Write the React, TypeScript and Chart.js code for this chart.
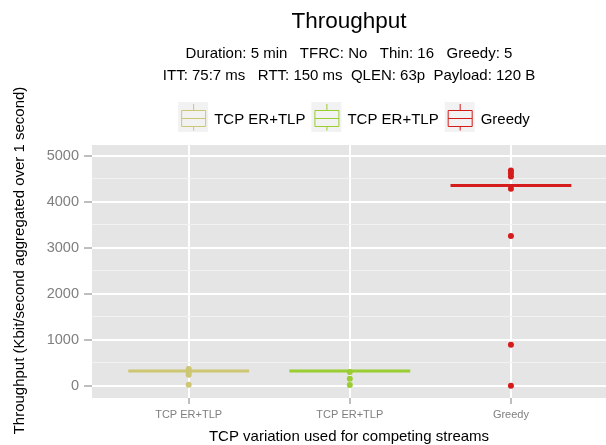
import React, { useEffect, useRef } from 'react';
import { Chart, registerables } from 'chart.js';

Chart.register(...registerables);

const FONT = '"Liberation Sans", Arial, Helvetica, sans-serif';

// ---- data ----
const categories = ['TCP ER+TLP', 'TCP ER+TLP', 'Greedy'];
const seriesColors = ['#cdc673', '#9acd32', '#d41c1c'];
const medians = [318, 322, 4357];
const outliersErTlpA = [365, 325, 285, 240, 20];
const outliersErTlpB = [300, 150, 15];
const outliersGreedy = [4684, 4627, 4553, 4285, 3259, 893, 0];
const outliers = [outliersErTlpA, outliersErTlpB, outliersGreedy];
const yTickValues = [0, 500, 1000, 1500, 2000, 2500, 3000, 3500, 4000, 4500, 5000];
const yMajorStep = 1000;
const yMin = -268;
const yMax = 5240;

const titleText = 'Throughput';
const subtitleLines = [
  'Duration: 5 min   TFRC: No   Thin: 16   Greedy: 5',
  'ITT: 75:7 ms   RTT: 150 ms  QLEN: 63p  Payload: 120 B',
];
const xTitle = 'TCP variation used for competing streams';
const yTitle = 'Throughput (Kbit/second aggregated over 1 second)';
const boxWidth = 0.75;

const panelBg = {
  id: 'panelBg',
  beforeDraw(chart: any) {
    const { ctx, chartArea } = chart;
    ctx.save();
    ctx.fillStyle = '#ffffff';
    ctx.fillRect(0, 0, chart.width, chart.height);
    ctx.fillStyle = '#e5e5e5';
    ctx.fillRect(chartArea.left, chartArea.top, chartArea.right - chartArea.left, chartArea.bottom - chartArea.top);
    ctx.restore();
  },
};

const boxLegend = {
  id: 'boxLegend',
  afterDraw(chart: any) {
    const { ctx, chartArea } = chart;
    ctx.save();
    ctx.font = `15px ${FONT}`;
    const key = 30;
    const textGap = 6;
    const itemGap = 6;
    const widths = categories.map((t) => ctx.measureText(t).width);
    const total = widths.reduce((a, w) => a + key + textGap + w, 0) + itemGap * (categories.length - 1);
    const cx = (chartArea.left + chartArea.right) / 2 + 5;
    let x = cx - total / 2;
    const top = chartArea.top - 43;
    categories.forEach((label, i) => {
      const c = seriesColors[i];
      ctx.fillStyle = '#f2f2f2';
      ctx.fillRect(x, top, key, key);
      ctx.strokeStyle = c;
      ctx.lineWidth = 1;
      ctx.beginPath();
      ctx.rect(x + 3.5, top + 8.5, 24, 16);
      ctx.moveTo(x + 3.5, top + 16.5);
      ctx.lineTo(x + 27.5, top + 16.5);
      ctx.moveTo(x + 15.5, top + 2);
      ctx.lineTo(x + 15.5, top + 8.5);
      ctx.moveTo(x + 15.5, top + 24.5);
      ctx.lineTo(x + 15.5, top + 28.5);
      ctx.stroke();
      ctx.fillStyle = '#000';
      ctx.textAlign = 'left';
      ctx.textBaseline = 'alphabetic';
      ctx.fillText(label, x + key + textGap, top + 22);
      x += key + textGap + widths[i] + itemGap;
    });
    ctx.restore();
  },
};

const yAxisTitle = {
  id: 'yAxisTitle',
  afterDraw(chart: any) {
    const { ctx } = chart;
    ctx.save();
    ctx.translate(24, 260.5);
    ctx.rotate(-Math.PI / 2);
    ctx.font = `15px ${FONT}`;
    ctx.fillStyle = '#000';
    ctx.textAlign = 'center';
    ctx.textBaseline = 'alphabetic';
    ctx.fillText(yTitle, 0, 0);
    ctx.restore();
  },
};

export default function App() {
  const ref = useRef<HTMLCanvasElement | null>(null);

  useEffect(() => {
    document.body.style.margin = '0';
    document.body.style.overflow = 'hidden';
    if (!ref.current) return;
    Chart.defaults.font.family = FONT;

    const datasets: any[] = [];
    categories.forEach((cat, i) => {
      datasets.push({
        label: cat + ' median',
        data: [
          { x: i + 1 - boxWidth / 2, y: medians[i] },
          { x: i + 1 + boxWidth / 2, y: medians[i] },
        ],
        showLine: true,
        borderColor: seriesColors[i],
        borderWidth: 3,
        pointRadius: 0,
        order: 2,
      });
      datasets.push({
        label: cat + ' outliers',
        data: outliers[i].map((v) => ({ x: i + 1, y: v })),
        showLine: false,
        pointRadius: 3,
        pointBorderWidth: 0,
        pointBackgroundColor: seriesColors[i],
        backgroundColor: seriesColors[i],
        borderColor: seriesColors[i],
        order: 1,
      });
    });

    const chart = new Chart(ref.current, {
      type: 'scatter',
      data: { datasets },
      options: {
        responsive: false,
        animation: false,
        layout: { padding: 0, autoPadding: false },
        plugins: {
          legend: { display: false },
          tooltip: { enabled: false },
          title: {
            display: true,
            text: titleText,
            fullSize: false,
            color: '#000',
            font: { family: FONT, size: 22.5, weight: 'normal', lineHeight: '26px' },
            padding: { top: 9, bottom: 8 },
          },
          subtitle: {
            display: true,
            text: subtitleLines,
            fullSize: false,
            color: '#000',
            font: { family: FONT, size: 15, weight: 'normal', lineHeight: '22px' },
            padding: { top: 0, bottom: 58 },
          },
        },
        scales: {
          x: {
            type: 'linear',
            min: 0.4,
            max: 3.59,
            afterBuildTicks: (scale: any) => {
              scale.ticks = categories.map((_, i) => ({ value: i + 1 }));
            },
            afterFit: (scale: any) => {
              scale.height = 47;
              scale.paddingLeft = 0;
              scale.paddingRight = 0;
            },
            ticks: {
              autoSkip: false,
              maxRotation: 0,
              padding: 4,
              color: '#7f7f7f',
              font: { family: FONT, size: 11 },
              callback: (v: any) => categories[Math.round(v) - 1] ?? '',
            },
            grid: {
              color: '#ffffff',
              lineWidth: 2,
              tickColor: '#7f7f7f',
              tickLength: 6,
              tickWidth: 1,
            },
            border: { display: false },
            title: {
              display: true,
              text: xTitle,
              color: '#000',
              font: { family: FONT, size: 15, lineHeight: '16px' },
              padding: 0,
            },
          },
          y: {
            type: 'linear',
            min: yMin,
            max: yMax,
            afterBuildTicks: (scale: any) => {
              scale.ticks = yTickValues.map((v) => ({ value: v }));
            },
            afterFit: (scale: any) => {
              scale.width = 92;
            },
            ticks: {
              autoSkip: false,
              padding: 5,
              color: '#7f7f7f',
              font: { family: FONT, size: 14.5 },
              callback: (v: any) => (v % yMajorStep === 0 ? String(v) : ''),
            },
            grid: {
              color: (c: any) => (c.tick && c.tick.value % yMajorStep === 0 ? '#ffffff' : '#f2f2f2'),
              lineWidth: (c: any) => (c.tick && c.tick.value % yMajorStep === 0 ? 2 : 1),
              tickColor: (c: any) => (c.tick && c.tick.value % yMajorStep === 0 ? '#7f7f7f' : 'rgba(0,0,0,0)'),
              tickLength: 8,
              tickWidth: 1,
            },
            border: { display: false },
          },
        },
      },
      plugins: [panelBg, boxLegend, yAxisTitle],
    } as any);

    return () => chart.destroy();
  }, []);

  return <canvas ref={ref} width={606} height={445} style={{ display: 'block' }} />;
}
